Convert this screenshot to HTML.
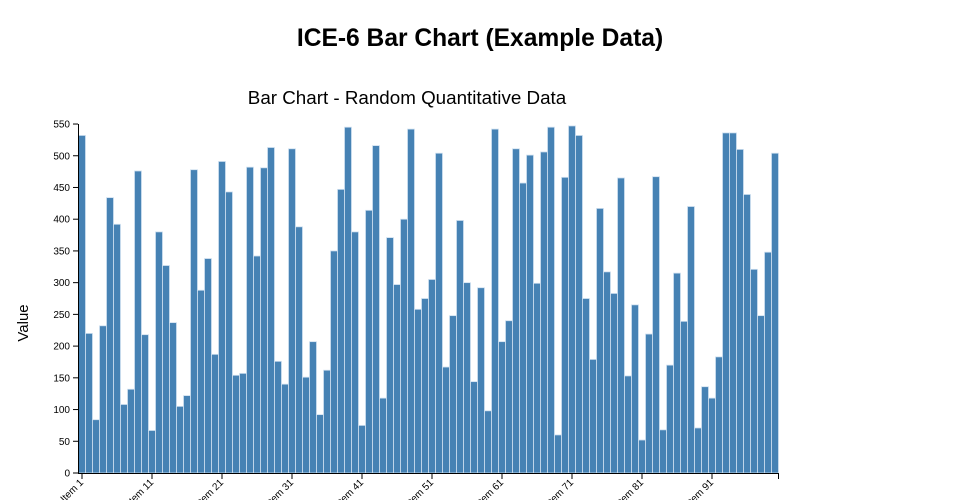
<!DOCTYPE html>
<html><head><meta charset="utf-8"><style>
html,body{margin:0;padding:0;background:#fff;width:960px;height:500px;overflow:hidden}
text{font-family:"Liberation Sans",sans-serif}
</style></head><body>
<svg width="960" height="500" xmlns="http://www.w3.org/2000/svg">
<text x="480" y="46" text-anchor="middle" font-size="24.6" font-weight="bold" fill="#000">ICE-6 Bar Chart (Example Data)</text>
<text x="407" y="104" text-anchor="middle" font-size="18.8" fill="#000">Bar Chart - Random Quantitative Data</text>
<text transform="translate(28,323) rotate(-90)" text-anchor="middle" font-size="15" fill="#000">Value</text>
<g id="bars"></g>
<g id="axes" stroke="#000" fill="none"></g>
<g id="labels" font-size="10" fill="#000"></g>
</svg>
<script>
var v=[532,220,84,232,434,392,108,132,476,218,67,380,327,237,105,122,478,288,338,187,491,443,154,157,482,342,481,513,176,140,511,388,151,207,92,162,350,447,545,380,75,414,516,118,371,297,400,542,258,275,305,504,167,248,398,300,144,292,98,542,207,240,511,457,501,299,506,545,60,466,547,532,275,179,417,317,283,465,153,265,52,219,467,68,170,315,239,420,71,136,118,183,536,536,510,439,321,248,348,504];
var ns="http://www.w3.org/2000/svg",s=0.6345,y0=473,x0=78;
var b=document.getElementById("bars"),a=document.getElementById("axes"),l=document.getElementById("labels");
function el(t,p,at){var e=document.createElementNS(ns,t);for(var k in at)e.setAttribute(k,at[k]);p.appendChild(e);return e;}
v.forEach(function(d,i){el("rect",b,{x:x0+7*i+0.5,y:y0-d*s,width:7,height:d*s,fill:"steelblue",stroke:"#cfe0f0","stroke-width":0.8});});
el("line",a,{x1:78.5,y1:124,x2:78.5,y2:473.5,"stroke-width":1});
el("line",a,{x1:78,y1:473.5,x2:778.5,y2:473.5,"stroke-width":1});
el("line",a,{x1:778.5,y1:473,x2:778.5,y2:479,"stroke-width":1});
for(var t=0;t<=550;t+=50){var y=y0-t*s;el("line",a,{x1:73,y1:y,x2:78,y2:y});var tx=el("text",l,{x:70,y:y+3.5,"text-anchor":"end"});tx.textContent=t;}
for(var i=0;i<100;i+=10){var x=x0+7*i+4;el("line",a,{x1:x,y1:473,x2:x,y2:479});var tx=el("text",l,{transform:"translate("+(x+2)+",483) rotate(-45)","text-anchor":"end"});tx.textContent="Item "+(i+1);}
</script>
</body></html>
